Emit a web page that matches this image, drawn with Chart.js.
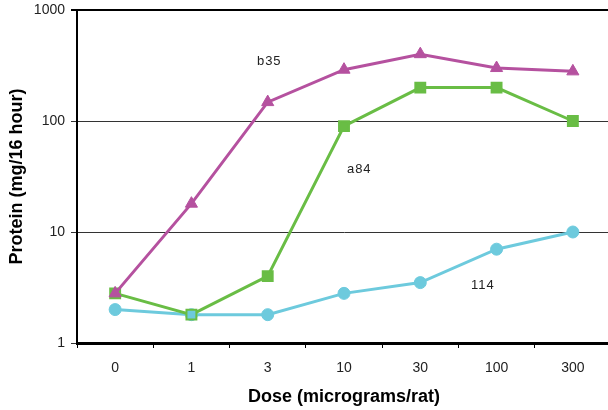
<!DOCTYPE html>
<html>
<head>
<meta charset="utf-8">
<script src="https://cdn.jsdelivr.net/npm/chart.js@4"></script>
<style>
  html, body { margin: 0; padding: 0; background: #fff; overflow: hidden; }
  /* plot runs a bit past the right edge of the window in the original */
  #wrap { width: 620px; height: 410px; }
</style>
</head>
<body>
<div id="wrap"><canvas id="chart"></canvas></div>
<script>
// ======================
// DATA
// ======================
const doses = ["0", "1", "3", "10", "30", "100", "300"];
const yTicks = [1, 10, 100, 1000];

const b35 = [2.8, 18, 148, 290, 400, 300, 280];
const a84 = [2.8, 1.8, 4, 90, 200, 200, 100];
const s114 = [2.0, 1.8, 1.8, 2.8, 3.5, 7, 10];

// label text + where it sits (category index, value)
const labelNames = ["b35", "a84", "114"];
const labelX = [2.02, 3.2, 4.82];
const labelY = [345, 37, 3.27];

const purple = "#B5519F";
const green = "#69BD45";
const cyan = "#6DCADD";

// ======================
// LABELS PLUGIN
// ======================
const seriesLabels = {
  id: "seriesLabels",
  afterDatasetsDraw(chart) {
    const ctx = chart.ctx;
    const xs = chart.scales.x;
    const ys = chart.scales.y;
    ctx.save();
    ctx.font = "13px 'Liberation Sans', Arial, sans-serif";
    ctx.fillStyle = "#222";
    ctx.textAlign = "center";
    ctx.textBaseline = "middle";
    if ("letterSpacing" in ctx) ctx.letterSpacing = "1px";
    labelNames.forEach((t, i) => {
      ctx.fillText(t, xs.getPixelForValue(labelX[i]), ys.getPixelForValue(labelY[i]));
    });
    ctx.restore();
  }
};

function ds(label, data, color, style, radius) {
  return {
    label: label,
    data: data,
    borderColor: color,
    backgroundColor: color,
    borderWidth: 3,
    pointStyle: style,
    pointRadius: radius,
    pointHoverRadius: radius,
    pointBackgroundColor: color,
    pointBorderColor: color,
    pointBorderWidth: 1,
    tension: 0
  };
}

const greenSet = ds("a84", a84, green, "rect", 7);
// square at dose 1 shows cyan fill in the original
greenSet.pointBackgroundColor = a84.map((v, i) => i === 1 ? cyan : green);
greenSet.pointBorderWidth = 2;

new Chart(document.getElementById("chart"), {
  type: "line",
  data: {
    labels: doses,
    datasets: [
      ds("b35", b35, purple, "triangle", 7),
      greenSet,
      ds("114", s114, cyan, "circle", 6)
    ]
  },
  options: {
    responsive: true,
    maintainAspectRatio: false,
    animation: false,
    layout: { padding: { top: 10, right: 0, bottom: 0, left: 0 } },
    plugins: {
      legend: { display: false },
      tooltip: { enabled: false }
    },
    scales: {
      x: {
        offset: true,
        grid: {
          offset: true,
          drawOnChartArea: false,
          drawTicks: true,
          tickLength: 5,
          color: "#000",
          lineWidth: 1
        },
        border: { color: "#000", width: 3 },
        ticks: {
          color: "#222",
          padding: 12,
          font: { family: "'Liberation Sans', Arial, sans-serif", size: 14 }
        },
        title: {
          display: true,
          text: "Dose (micrograms/rat)",
          color: "#000",
          padding: { top: 2, bottom: 2 },
          font: { family: "'Liberation Sans', Arial, sans-serif", size: 18, weight: "bold" }
        },
        afterFit: s => { s.height = 67; }
      },
      y: {
        type: "logarithmic",
        min: 1,
        max: 1000,
        afterBuildTicks: s => { s.ticks = yTicks.map(v => ({ value: v })); },
        grid: {
          color: c => c.tick && c.tick.value === 1000 ? "#000" : "#333",
          lineWidth: c => c.tick && c.tick.value === 1000 ? 2 : 1,
          drawTicks: true,
          tickLength: 6
        },
        border: { color: "#000", width: 2 },
        ticks: {
          color: "#222",
          padding: 6,
          callback: v => String(v),
          font: { family: "'Liberation Sans', Arial, sans-serif", size: 14 }
        },
        title: {
          display: true,
          text: "Protein (mg/16 hour)",
          color: "#000",
          padding: { top: 6, bottom: 4 },
          font: { family: "'Liberation Sans', Arial, sans-serif", size: 18, weight: "bold" }
        },
        afterFit: s => {
          s.width = 77;
          s.paddingTop = 0;
          s.paddingBottom = 0;
        }
      }
    }
  },
  plugins: [seriesLabels]
});
</script>
</body>
</html>
